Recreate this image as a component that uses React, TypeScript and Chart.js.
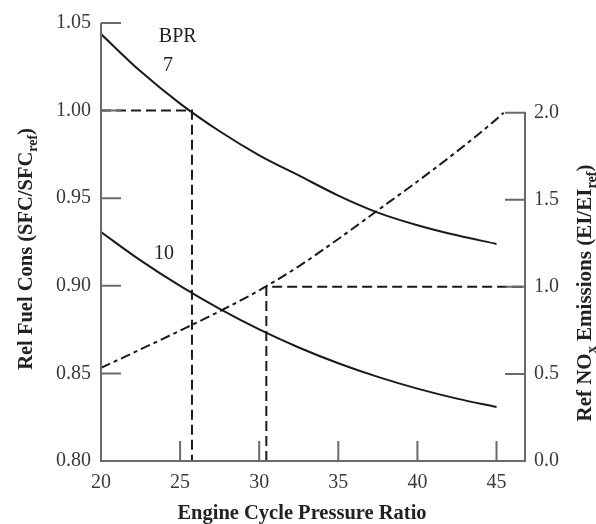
import React, { useEffect, useRef } from "react";
import { Chart, registerables } from "chart.js";

Chart.register(...registerables);

// ---- data ----
const pressureRatio = [20, 22.5, 25, 27.5, 30, 32.5, 35, 37.5, 40, 42.5, 45];
const sfcBpr7 = [1.0437, 1.0224, 1.004, 0.9882, 0.9745, 0.963, 0.9515, 0.9418, 0.9346, 0.9288, 0.9239];
const sfcBpr10 = [0.9307, 0.9145, 0.8999, 0.8868, 0.8751, 0.8648, 0.8558, 0.848, 0.8413, 0.8356, 0.8308];

const noxPressureRatio = [20, 22.5, 25, 27.5, 30, 32.5, 35, 37.5, 40, 42.5, 45, 45.45];
const noxRel = [0.535, 0.641, 0.749, 0.86, 0.98, 1.118, 1.275, 1.44, 1.605, 1.778, 1.963, 2.0];

const sfcGuideX = [20, 25.75, 25.75];
const sfcGuideY = [1.0, 1.0, 0.8];
const noxGuideX = [30.45, 30.45, 46.8];
const noxGuideY = [0, 1.0, 1.0];

const xTicks = [20, 25, 30, 35, 40, 45];
const sfcTicks = [0.8, 0.85, 0.9, 0.95, 1.0, 1.05];
const noxTicks = [0, 0.5, 1.0, 1.5, 2.0];

const X_MIN = 20;
const X_MAX = 46.8;
const SFC_MIN = 0.8;
const SFC_MAX = 1.05;
const NOX_MIN = 0;
const NOX_MAX = 2.515;

const curveLabels = [
  { text: "BPR", x: 24.85, y: 1.0424 },
  { text: "7", x: 24.23, y: 1.0256 },
  { text: "10", x: 23.98, y: 0.9183 },
];

type Part = { t: string; sub?: boolean };
const xTitle: Part[] = [{ t: "Engine Cycle Pressure Ratio" }];
const leftTitle: Part[] = [{ t: "Rel Fuel Cons (SFC/SFC" }, { t: "ref", sub: true }, { t: ")" }];
const rightTitle: Part[] = [
  { t: "Ref NO" },
  { t: "x", sub: true },
  { t: " Emissions (EI/EI" },
  { t: "ref", sub: true },
  { t: ")" },
];

const SERIF = "'Liberation Serif', 'DejaVu Serif', 'Times New Roman', serif";
const INK = "#1a1a1a";
const AXIS = "#6a6a6a";
const TICKTEXT = "#3a3a3a";

function drawRich(ctx: CanvasRenderingContext2D, parts: Part[], cx: number, by: number, size: number) {
  const subSize = size * 0.68;
  const fontOf = (p: Part) => `bold ${p.sub ? subSize : size}px ${SERIF}`;
  const widths = parts.map((p) => {
    ctx.font = fontOf(p);
    return ctx.measureText(p.t).width;
  });
  const total = widths.reduce((a, b) => a + b, 0);
  let x = cx - total / 2;
  ctx.textAlign = "left";
  ctx.textBaseline = "alphabetic";
  parts.forEach((p, i) => {
    ctx.font = fontOf(p);
    ctx.fillText(p.t, x, by + (p.sub ? size * 0.25 : 0));
    x += widths[i];
  });
}

const decorPlugin = {
  id: "decor",
  afterDraw(chart: any) {
    const ctx: CanvasRenderingContext2D = chart.ctx;
    const { left, right, top, bottom } = chart.chartArea;
    const xs = chart.scales.x;
    const yl = chart.scales.yL;
    const yr = chart.scales.yR;
    const TL = 20;
    ctx.save();
    ctx.strokeStyle = AXIS;
    ctx.lineWidth = 2;
    ctx.lineCap = "butt";
    ctx.beginPath();
    // axes
    ctx.moveTo(left, top);
    ctx.lineTo(left, bottom);
    ctx.moveTo(left - 1, bottom);
    ctx.lineTo(right + 1, bottom);
    ctx.moveTo(right, bottom);
    ctx.lineTo(right, yr.getPixelForValue(noxTicks[noxTicks.length - 1]) - 1);
    // ticks (inside)
    xTicks.forEach((v) => {
      const px = xs.getPixelForValue(v);
      ctx.moveTo(px, bottom);
      ctx.lineTo(px, bottom - TL);
    });
    sfcTicks.forEach((v) => {
      const py = yl.getPixelForValue(v);
      ctx.moveTo(left, py);
      ctx.lineTo(left + TL, py);
    });
    noxTicks.forEach((v) => {
      const py = yr.getPixelForValue(v);
      ctx.moveTo(right, py);
      ctx.lineTo(right - TL, py);
    });
    ctx.stroke();

    // curve labels
    ctx.fillStyle = "#222";
    ctx.font = `20px ${SERIF}`;
    ctx.textAlign = "center";
    ctx.textBaseline = "middle";
    curveLabels.forEach((l) => {
      ctx.fillText(l.text, xs.getPixelForValue(l.x), yl.getPixelForValue(l.y));
    });

    // axis titles
    ctx.fillStyle = "#222";
    drawRich(ctx, xTitle, 302, 519, 20.5);
    ctx.save();
    ctx.translate(32, 249);
    ctx.rotate(-Math.PI / 2);
    drawRich(ctx, leftTitle, 0, 0, 20.5);
    ctx.restore();
    ctx.save();
    ctx.translate(591, 293);
    ctx.rotate(-Math.PI / 2);
    drawRich(ctx, rightTitle, 0, 0, 21);
    ctx.restore();
    ctx.restore();
  },
};

export default function App() {
  const ref = useRef<HTMLCanvasElement | null>(null);
  useEffect(() => {
    if (!ref.current) return;
    const tickFont = { family: SERIF, size: 20 };
    const chart = new Chart(ref.current, {
      type: "line",
      data: {
        datasets: [
          {
            data: pressureRatio.map((x, i) => ({ x, y: sfcBpr7[i] })),
            yAxisID: "yL",
            borderColor: INK,
            borderWidth: 2,
            pointRadius: 0,
            cubicInterpolationMode: "monotone",
          },
          {
            data: pressureRatio.map((x, i) => ({ x, y: sfcBpr10[i] })),
            yAxisID: "yL",
            borderColor: INK,
            borderWidth: 2,
            pointRadius: 0,
            cubicInterpolationMode: "monotone",
          },
          {
            data: noxPressureRatio.map((x, i) => ({ x, y: noxRel[i] })),
            yAxisID: "yR",
            borderColor: INK,
            borderWidth: 2,
            borderDash: [10, 4, 4, 4],
            pointRadius: 0,
            cubicInterpolationMode: "monotone",
          },
          {
            data: sfcGuideX.map((x, i) => ({ x, y: sfcGuideY[i] })),
            yAxisID: "yL",
            borderColor: INK,
            borderWidth: 2,
            borderDash: [10, 5],
            pointRadius: 0,
            tension: 0,
          },
          {
            data: noxGuideX.map((x, i) => ({ x, y: noxGuideY[i] })),
            yAxisID: "yR",
            borderColor: INK,
            borderWidth: 2,
            borderDash: [10, 5],
            pointRadius: 0,
            tension: 0,
          },
        ],
      },
      options: {
        animation: false,
        responsive: false,
        layout: { padding: { top: 23, left: 0, right: 0, bottom: 0 } },
        plugins: { legend: { display: false }, tooltip: { enabled: false } },
        scales: {
          x: {
            type: "linear",
            min: X_MIN,
            max: X_MAX,
            grid: { display: false, drawTicks: false },
            border: { display: false },
            ticks: { font: tickFont, color: TICKTEXT, padding: 10, maxRotation: 0, autoSkip: false },
            afterBuildTicks: (s: any) => {
              s.ticks = xTicks.map((v) => ({ value: v }));
            },
            afterFit: (s: any) => {
              s.height = 63;
            },
          },
          yL: {
            type: "linear",
            position: "left",
            min: SFC_MIN,
            max: SFC_MAX,
            grid: { display: false, drawTicks: false },
            border: { display: false },
            ticks: {
              font: tickFont,
              color: TICKTEXT,
              padding: 10,
              callback: (v: any) => Number(v).toFixed(2),
            },
            afterBuildTicks: (s: any) => {
              s.ticks = sfcTicks.map((v) => ({ value: v }));
            },
            afterFit: (s: any) => {
              s.width = 101;
            },
          },
          yR: {
            type: "linear",
            position: "right",
            min: NOX_MIN,
            max: NOX_MAX,
            grid: { display: false, drawTicks: false },
            border: { display: false },
            ticks: {
              font: tickFont,
              color: TICKTEXT,
              padding: 9,
              callback: (v: any) => Number(v).toFixed(1),
            },
            afterBuildTicks: (s: any) => {
              s.ticks = noxTicks.map((v) => ({ value: v }));
            },
            afterFit: (s: any) => {
              s.width = 71;
            },
          },
        },
      },
      plugins: [decorPlugin],
    } as any);
    return () => chart.destroy();
  }, []);
  return (
    <div style={{ position: "absolute", left: 0, top: 0, width: 596, height: 524, background: "#fff" }}>
      <canvas ref={ref} width={596} height={524} style={{ display: "block" }} />
    </div>
  );
}
